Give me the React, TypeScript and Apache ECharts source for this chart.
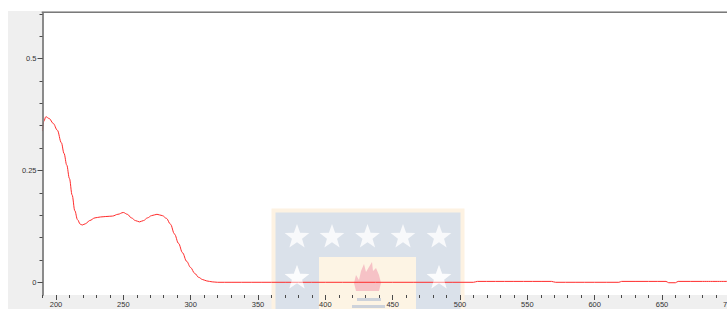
import React, { useEffect, useRef } from "react";
import * as echarts from "echarts";

const wavelengths = [
  190, 191, 192.5, 195, 198, 201, 204, 206, 208, 210, 212, 214, 216, 218, 219.5,
  222, 225, 229, 233, 237, 242, 246, 250, 253, 256, 259, 262, 265, 268, 271, 275,
  279, 282, 285, 288, 291, 294, 297, 300, 303, 306, 309, 312, 316, 320, 330, 360,
  400, 450, 510, 513, 540, 568, 571, 600, 618, 620, 640, 653, 655, 660, 662, 680, 700,
];
const absorbance = [
  0.338, 0.36, 0.37, 0.366, 0.355, 0.34, 0.312, 0.288, 0.262, 0.232, 0.195, 0.16, 0.14, 0.13, 0.128,
  0.131, 0.138, 0.144, 0.146, 0.147, 0.148, 0.152, 0.156, 0.152, 0.144, 0.138, 0.135, 0.138, 0.144, 0.149, 0.152,
  0.149, 0.143, 0.13, 0.108, 0.087, 0.066, 0.047, 0.033, 0.02, 0.011, 0.006, 0.003, 0.001, 0, 0, 0,
  0, 0, 0, 0.002, 0.002, 0.002, 0, 0, 0, 0.002, 0.002, 0.002, -0.001, -0.001, 0.002, 0.002, 0.002,
];

const xMajorTicks = [200, 250, 300, 350, 400, 450, 500, 550, 600, 650, 700];
const xMinorTicks = [
  190, 200, 210, 220, 230, 240, 250, 260, 270, 280, 290, 300, 310, 320, 330, 340, 350,
  360, 370, 380, 390, 400, 410, 420, 430, 440, 450, 460, 470, 480, 490, 500, 510, 520,
  530, 540, 550, 560, 570, 580, 590, 600, 610, 620, 630, 640, 650, 660, 670, 680, 690, 700,
];
const yMajorTicks = [0, 0.25, 0.5];
const yMinorTicks = [0, 0.05, 0.1, 0.15, 0.2, 0.25, 0.3, 0.35, 0.4, 0.45, 0.5, 0.55, 0.6];

const X_MIN = 190;
const X_MAX = 700;
const Y_MIN = -0.0284;
const Y_MAX = 0.603;

function starPoints(cx: number, cy: number, R: number, r: number) {
  const pts: number[][] = [];
  for (let i = 0; i < 10; i++) {
    const a = -Math.PI / 2 + (i * Math.PI) / 5;
    const rad = i % 2 === 0 ? R : r;
    pts.push([cx + rad * Math.cos(a), cy + rad * Math.sin(a)]);
  }
  return pts;
}

export default function App() {
  const ref = useRef<HTMLDivElement>(null);
  useEffect(() => {
    if (!ref.current) return;
    const chart = echarts.init(ref.current, null, { renderer: "svg" });
    const data = wavelengths.map((w, i) => [w, absorbance[i]]);
    const tickColor = "#4a4a4a";
    const labelStyle = { fontSize: 7.5, color: "#333", fontFamily: "Liberation Sans, Arial, sans-serif" };

    const star = (cx: number, cy: number, z: number, fill: string, opacity = 1) => ({
      type: "polygon",
      z,
      silent: true,
      shape: { points: starPoints(cx, cy, 13, 5.3) },
      style: { fill, opacity },
    });
    const topStars = [297, 332, 367.5, 403, 439].map((cx) => star(cx, 237, 3, "#f8f9fb"));
    const bottomStars = [297, 439].map((cx) => star(cx, 278, 3, "#f8f9fb"));
    const bottomStarsOverlay = [297, 439].map((cx) => star(cx, 278, 7, "#ffffff", 0.45));

    const xAxisBase = {
      type: "value",
      min: X_MIN,
      max: X_MAX,
      position: "bottom",
      z: 10,
      axisLine: { show: false, onZero: false },
      splitLine: { show: false },
    };
    const yAxisBase = {
      type: "value",
      min: Y_MIN,
      max: Y_MAX,
      position: "left",
      z: 10,
      splitLine: { show: false },
    };

    const option: any = {
      animation: false,
      grid: {
        left: 42.5,
        top: 12.5,
        right: -2.3,
        bottom: 14,
        containLabel: false,
        outerBoundsMode: "none",
      },
      xAxis: [
        {
          ...xAxisBase,
          axisTick: { show: true, customValues: xMinorTicks, length: 3, lineStyle: { color: tickColor, width: 1 } },
          axisLabel: { show: false },
        },
        {
          ...xAxisBase,
          axisTick: { show: true, customValues: xMajorTicks, length: 5, lineStyle: { color: tickColor, width: 1 } },
          axisLabel: { show: true, customValues: xMajorTicks, margin: 5, ...labelStyle },
        },
      ],
      yAxis: [
        {
          ...yAxisBase,
          axisLine: { show: true, onZero: false, lineStyle: { color: "#777", width: 1.7 } },
          axisTick: { show: true, customValues: yMinorTicks, length: 3, lineStyle: { color: tickColor, width: 1 } },
          axisLabel: { show: false },
        },
        {
          ...yAxisBase,
          axisLine: { show: false, onZero: false },
          axisTick: { show: true, customValues: yMajorTicks, length: 5, lineStyle: { color: tickColor, width: 1 } },
          axisLabel: { show: true, customValues: yMajorTicks, margin: 6, ...labelStyle },
        },
      ],
      graphic: [
        { type: "rect", z: 0, silent: true, shape: { x: 8, y: 11, width: 719, height: 298 }, style: { fill: "#efefef" } },
        { type: "rect", z: 1, silent: true, shape: { x: 42.5, y: 12, width: 690, height: 283 }, style: { fill: "#ffffff" } },
        // watermark logo
        { type: "rect", z: 2, silent: true, shape: { x: 271.5, y: 208.5, width: 193, height: 101 }, style: { fill: "#fdf2e2" } },
        { type: "rect", z: 2, silent: true, shape: { x: 275.5, y: 212.5, width: 185, height: 97 }, style: { fill: "#dae1ea" } },
        { type: "rect", z: 2, silent: true, shape: { x: 319, y: 257, width: 97, height: 52 }, style: { fill: "#fdf4e4" } },
        ...topStars,
        ...bottomStars,
        {
          type: "polygon",
          z: 3,
          silent: true,
          shape: {
            points: [
              [356, 291], [354, 283], [356, 275], [359, 280], [361, 271], [364, 264], [366, 272],
              [369, 267], [372, 262], [373, 271], [376, 268], [379, 275], [381, 283], [379, 291],
            ],
          },
          style: { fill: "#f6c2c6" },
        },
        { type: "rect", z: 3, silent: true, shape: { x: 357, y: 298, width: 24, height: 3 }, style: { fill: "#cdd2da" } },
        { type: "rect", z: 3, silent: true, shape: { x: 352, y: 305, width: 33, height: 3 }, style: { fill: "#cdd2da" } },
        ...bottomStarsOverlay,
        {
          type: "line",
          z: 10,
          silent: true,
          shape: { x1: 41.7, y1: 12.3, x2: 727, y2: 12.3 },
          style: { stroke: "#7a7a7a", lineWidth: 1.6 },
        },
      ],
      series: [
        {
          type: "line",
          xAxisIndex: 0,
          yAxisIndex: 0,
          z: 5,
          data,
          showSymbol: false,
          smooth: 0.35,
          smoothMonotone: "x",
          lineStyle: { color: "#ff2b2b", width: 1 },
        },
      ],
    };
    chart.setOption(option);
    return () => chart.dispose();
  }, []);
  return (
    <div
      ref={ref}
      style={{ position: "absolute", left: 0, top: 0, width: 727, height: 309, overflow: "hidden" }}
    />
  );
}
